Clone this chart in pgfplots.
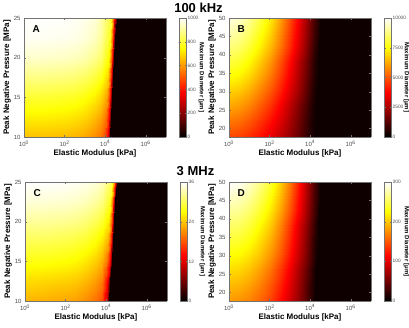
\documentclass[border=0pt]{standalone}
\usepackage{fontspec}
\setmainfont{Liberation Sans}
\usepackage{pgfplots}
\pgfplotsset{compat=1.18}

% MATLAB-style "hot": black -> red -> yellow -> white
\pgfplotsset{colormap={mhot}{rgb255(0)=(0,0,0) rgb255(3)=(255,0,0) rgb255(6)=(255,255,0) rgb255(8)=(255,255,255)}}

\tikzset{letter/.style={font=\fontsize{10}{10}\selectfont\bfseries, anchor=north west}}

\pgfplotsset{
  panel/.style={
    scale only axis, width=142pt, height=119pt,
    view={0}{90}, axis on top, colormap name=mhot,
    xmin=0, xmax=7, xtick={0,2,4,6},
    xticklabels={10\textsuperscript{0},10\textsuperscript{2},10\textsuperscript{4},10\textsuperscript{6}},
    xlabel={Elastic Modulus [kPa]}, ylabel={Peak Negative Pressure [MPa]},
    every axis x label/.style={at={(axis description cs:0.5,-0.135)}, anchor=center,
      font=\fontsize{8}{9}\selectfont\bfseries},
    every axis y label/.style={at={(axis description cs:-0.12,0.5)}, rotate=90, anchor=center,
      font=\fontsize{8}{9}\selectfont\bfseries},
    tick label style={font=\fontsize{6}{7}\selectfont, text=black!70},
    /pgf/number format/assume math mode=true,
    axis line style={black!55}, tick style={black!55},
    tick align=inside, major tick length=2pt,
    colorbar,
    colorbar style={
      width=7pt, at={(parent axis.north east)}, anchor=north west, xshift=5pt,
      axis line style={black!55}, tick style={black!55}, major tick length=1.5pt,
      scaled y ticks=false,
      yticklabel style={font=\fontsize{4.8}{5}\selectfont, text=black!70, inner sep=1pt},
      ylabel={Maximum Diameter [μm]},
      every axis y label/.style={at={(axis description cs:1,0.5)}, xshift=15pt,
        rotate=-90, anchor=center, inner sep=0pt, font=\fontsize{6}{7}\selectfont\bfseries},
    },
  },
}

\begin{document}
\begin{tikzpicture}
\useasboundingbox (0,0) rectangle (409pt,-328pt);

\node[font=\fontsize{13}{13}\selectfont\bfseries] at (198.5pt,-7.5pt) {100 kHz};
\node[font=\fontsize{13}{13}\selectfont\bfseries] at (195.5pt,-171pt) {3 MHz};

% ---------------- A: 100 kHz, low pressure
\begin{axis}[panel, at={(24pt,-18pt)}, anchor=north west,
  ymin=10, ymax=25, ytick={10,15,20,25},
  point meta min=0, point meta max=1000,
  colorbar style={ytick={0,200,400,600,800,1000},
    yticklabels={0,200,400,600,800,1000}}]
\addplot3[surf, shader=interp, mesh/cols=11] table[row sep=\\] {
x y z\\
0 10 660\\ 1 10 660\\ 2 10 650\\ 2.5 10 640\\ 3 10 620\\ 3.5 10 581\\ 3.8 10 541\\ 4.00 10 480\\ 4.15 10 350\\ 4.25 10 20\\ 7 10 22\\
0 12.5 730\\ 1 12.5 730\\ 2 12.5 721\\ 2.5 12.5 710\\ 3 12.5 691\\ 3.5 12.5 652\\ 3.8 12.5 613\\ 4.05 12.5 540\\ 4.20 12.5 380\\ 4.30 12.5 20\\ 7 12.5 22\\
0 15 800\\ 1 15 800\\ 2 15 791\\ 2.5 15 782\\ 3 15 762\\ 3.5 15 726\\ 3.8 15 688\\ 4.10 15 610\\ 4.25 15 410\\ 4.35 15 20\\ 7 15 22\\
0 17.5 880\\ 1 17.5 878\\ 2 17.5 871\\ 2.5 17.5 862\\ 3 17.5 845\\ 3.5 17.5 810\\ 3.8 17.5 774\\ 4.15 17.5 680\\ 4.30 17.5 430\\ 4.40 17.5 20\\ 7 17.5 22\\
0 20 950\\ 1 20 948\\ 2 20 941\\ 2.5 20 934\\ 3 20 919\\ 3.5 20 886\\ 3.8 20 855\\ 4.21 20 740\\ 4.36 20 440\\ 4.46 20 20\\ 7 20 22\\
0 22.5 990\\ 1 22.5 988\\ 2 22.5 983\\ 2.5 22.5 977\\ 3 22.5 963\\ 3.5 22.5 938\\ 3.8 22.5 900\\ 4.26 22.5 780\\ 4.41 22.5 440\\ 4.51 22.5 20\\ 7 22.5 22\\
0 25 1000\\ 1 25 1000\\ 2 25 995\\ 2.5 25 990\\ 3 25 980\\ 3.5 25 960\\ 3.8 25 920\\ 4.31 25 800\\ 4.46 25 420\\ 4.56 25 20\\ 7 25 22\\
};
\node[letter] at (axis description cs:0.035,0.965) {A};
\end{axis}

% ---------------- B: 100 kHz, high pressure
\begin{axis}[panel, at={(229pt,-18pt)}, anchor=north west,
  ymin=17.7, ymax=50, ytick={20,25,30,35,40,45,50},
  point meta min=0, point meta max=10000,
  colorbar style={ytick={0,2500,5000,7500,10000},
    yticklabels={0,2500,5000,7500,10000}}]
\addplot3[surf, shader=interp, mesh/cols=13] table[row sep=\\] {
x y z\\
0 17.7 4800\\ 0.5 17.7 4675\\ 1 17.7 4392\\ 1.5 17.7 3984\\ 2 17.7 3466\\ 2.5 17.7 2851\\ 3 17.7 2146\\ 3.5 17.7 1349\\ 3.8 17.7 830\\ 4.0 17.7 500\\ 4.2 17.7 260\\ 4.25 17.7 220\\ 7 17.7 220\\
0 22 5500\\ 0.5 22 5357\\ 1 22 5033\\ 1.5 22 4565\\ 2 22 3971\\ 2.5 22 3267\\ 3 22 2459\\ 3.5 22 1546\\ 3.8 22 960\\ 4.0 22 580\\ 4.2 22 280\\ 4.28 22 220\\ 7 22 220\\
0 26 6200\\ 0.5 26 6039\\ 1 26 5673\\ 1.5 26 5146\\ 2 26 4476\\ 2.5 26 3683\\ 3 26 2771\\ 3.5 26 1742\\ 3.8 26 1150\\ 4.0 26 700\\ 4.2 26 320\\ 4.31 26 220\\ 7 26 220\\
0 30 6800\\ 0.5 30 6630\\ 1 30 6249\\ 1.5 30 5698\\ 2 30 5005\\ 2.5 30 4175\\ 3 30 3216\\ 3.5 30 2149\\ 3.8 30 1400\\ 4.0 30 900\\ 4.2 30 420\\ 4.35 30 220\\ 7 30 220\\
0 34 7500\\ 0.5 34 7313\\ 1 34 6893\\ 1.5 34 6285\\ 2 34 5520\\ 2.5 34 4605\\ 3 34 3548\\ 3.5 34 2370\\ 3.8 34 1600\\ 4.0 34 1060\\ 4.2 34 520\\ 4.38 34 220\\ 7 34 220\\
0 38 8100\\ 0.5 38 7898\\ 1 38 7444\\ 1.5 38 6788\\ 2 38 5962\\ 2.5 38 4973\\ 3 38 3831\\ 3.5 38 2560\\ 3.8 38 1780\\ 4.0 38 1200\\ 4.2 38 620\\ 4.41 38 220\\ 7 38 220\\
0 42 8700\\ 0.5 42 8491\\ 1 42 8021\\ 1.5 42 7360\\ 2 42 6508\\ 2.5 42 5498\\ 3 42 4333\\ 3.5 42 3028\\ 3.8 42 2100\\ 4.0 42 1450\\ 4.2 42 800\\ 4.44 42 220\\ 7 42 220\\
0 46 9200\\ 0.5 46 8979\\ 1 46 8482\\ 1.5 46 7783\\ 2 46 6882\\ 2.5 46 5814\\ 3 46 4582\\ 3.5 46 3202\\ 3.8 46 2300\\ 4.0 46 1650\\ 4.2 46 950\\ 4.47 46 220\\ 7 46 220\\
0 50 9700\\ 0.5 50 9467\\ 1 50 8943\\ 1.5 50 8206\\ 2 50 7256\\ 2.5 50 6130\\ 3 50 4831\\ 3.5 50 3376\\ 3.8 50 2425\\ 4.0 50 1765\\ 4.2 50 1077\\ 4.5 50 220\\ 7 50 220\\
};
\node[letter] at (axis description cs:0.035,0.965) {B};
\end{axis}

% ---------------- C: 3 MHz, low pressure
\begin{axis}[panel, at={(25pt,-182pt)}, anchor=north west,
  ymin=10, ymax=25, ytick={10,15,20,25},
  point meta min=0, point meta max=36,
  colorbar style={ytick={0,12,24,36}, yticklabels={0,12,24,36}}]
\addplot3[surf, shader=interp, mesh/cols=11] table[row sep=\\] {
x y z\\
0 10 23.0\\ 1 10 22.8\\ 2 10 22.3\\ 2.5 10 21.9\\ 3 10 20.9\\ 3.5 10 19.3\\ 3.8 10 17.7\\ 3.90 10 14.5\\ 4.05 10 10.0\\ 4.15 10 0.8\\ 7 10 0.8\\
0 12.5 25.2\\ 1 12.5 24.9\\ 2 12.5 24.5\\ 2.5 12.5 24.1\\ 3 12.5 23.2\\ 3.5 12.5 21.7\\ 3.8 12.5 20.1\\ 3.96 12.5 16.5\\ 4.11 12.5 11.5\\ 4.21 12.5 0.8\\ 7 12.5 0.8\\
0 15 27.7\\ 1 15 27.5\\ 2 15 27.1\\ 2.5 15 26.7\\ 3 15 25.8\\ 3.5 15 24.4\\ 3.8 15 22.9\\ 4.02 15 19.5\\ 4.17 15 13.5\\ 4.27 15 0.8\\ 7 15 0.8\\
0 17.5 29.9\\ 1 17.5 29.8\\ 2 17.5 29.4\\ 2.5 17.5 29.0\\ 3 17.5 28.3\\ 3.5 17.5 26.9\\ 3.8 17.5 25.5\\ 4.08 17.5 22.5\\ 4.23 17.5 15.5\\ 4.33 17.5 0.8\\ 7 17.5 0.8\\
0 20 32.4\\ 1 20 32.3\\ 2 20 32.0\\ 2.5 20 31.7\\ 3 20 31.0\\ 3.5 20 29.8\\ 3.8 20 28.6\\ 4.14 20 25.5\\ 4.29 20 16.5\\ 4.39 20 0.8\\ 7 20 0.8\\
0 22.5 34.6\\ 1 22.5 34.5\\ 2 22.5 34.3\\ 2.5 22.5 34.0\\ 3 22.5 33.5\\ 3.5 22.5 32.5\\ 3.8 22.5 31.5\\ 4.21 22.5 28.0\\ 4.36 22.5 17.0\\ 4.46 22.5 0.8\\ 7 22.5 0.8\\
0 25 36.0\\ 1 25 36.0\\ 2 25 35.8\\ 2.5 25 35.6\\ 3 25 35.3\\ 3.5 25 34.6\\ 3.8 25 33.8\\ 4.27 25 29.5\\ 4.42 25 16.5\\ 4.52 25 0.8\\ 7 25 0.8\\
};
\node[letter] at (axis description cs:0.035,0.965) {C};
\end{axis}

% ---------------- D: 3 MHz, high pressure
\begin{axis}[panel, at={(229pt,-182pt)}, anchor=north west,
  ymin=17.7, ymax=50, ytick={20,25,30,35,40,45,50},
  point meta min=0, point meta max=300,
  colorbar style={ytick={0,100,200,300}, yticklabels={0,100,200,300}}]
\addplot3[surf, shader=interp, mesh/cols=13] table[row sep=\\] {
x y z\\
0 17.7 180\\ 0.5 17.7 177\\ 1 17.7 170\\ 1.5 17.7 158\\ 2 17.7 141\\ 2.5 17.7 118\\ 3 17.7 91\\ 3.5 17.7 60\\ 3.8 17.7 38\\ 4.0 17.7 23\\ 4.2 17.7 9\\ 4.25 17.7 6.6\\ 7 17.7 6.6\\
0 22 195\\ 0.5 22 192\\ 1 22 184\\ 1.5 22 171\\ 2 22 152\\ 2.5 22 128\\ 3 22 99\\ 3.5 22 65\\ 3.8 22 41\\ 4.0 22 25\\ 4.2 22 10\\ 4.28 22 6.6\\ 7 22 6.6\\
0 26 210\\ 0.5 26 207\\ 1 26 198\\ 1.5 26 184\\ 2 26 164\\ 2.5 26 138\\ 3 26 107\\ 3.5 26 70\\ 3.8 26 47\\ 4.0 26 30\\ 4.2 26 12\\ 4.31 26 6.6\\ 7 26 6.6\\
0 30 225\\ 0.5 30 222\\ 1 30 213\\ 1.5 30 199\\ 2 30 178\\ 2.5 30 152\\ 3 30 119\\ 3.5 30 81\\ 3.8 30 56\\ 4.0 30 38\\ 4.2 30 18\\ 4.35 30 6.6\\ 7 30 6.6\\
0 34 240\\ 0.5 34 237\\ 1 34 228\\ 1.5 34 212\\ 2 34 190\\ 2.5 34 162\\ 3 34 127\\ 3.5 34 87\\ 3.8 34 60\\ 4.0 34 40\\ 4.2 34 19\\ 4.38 34 6.6\\ 7 34 6.6\\
0 38 255\\ 0.5 38 252\\ 1 38 242\\ 1.5 38 225\\ 2 38 202\\ 2.5 38 172\\ 3 38 135\\ 3.5 38 92\\ 3.8 38 66\\ 4.0 38 46\\ 4.2 38 25\\ 4.41 38 6.6\\ 7 38 6.6\\
0 42 270\\ 0.5 42 267\\ 1 42 257\\ 1.5 42 240\\ 2 42 216\\ 2.5 42 186\\ 3 42 149\\ 3.5 42 105\\ 3.8 42 75\\ 4.0 42 54\\ 4.2 42 32\\ 4.44 42 6.6\\ 7 42 6.6\\
0 46 285\\ 0.5 46 281\\ 1 46 271\\ 1.5 46 253\\ 2 46 228\\ 2.5 46 196\\ 3 46 157\\ 3.5 46 110\\ 3.8 46 79\\ 4.0 46 57\\ 4.2 46 34\\ 4.47 46 6.6\\ 7 46 6.6\\
0 50 300\\ 0.5 50 296\\ 1 50 285\\ 1.5 50 266\\ 2 50 240\\ 2.5 50 206\\ 3 50 165\\ 3.5 50 116\\ 3.8 50 83\\ 4.0 50 60\\ 4.2 50 35\\ 4.5 50 6.6\\ 7 50 6.6\\
};
\node[letter] at (axis description cs:0.035,0.965) {D};
\end{axis}
\end{tikzpicture}
\end{document}
